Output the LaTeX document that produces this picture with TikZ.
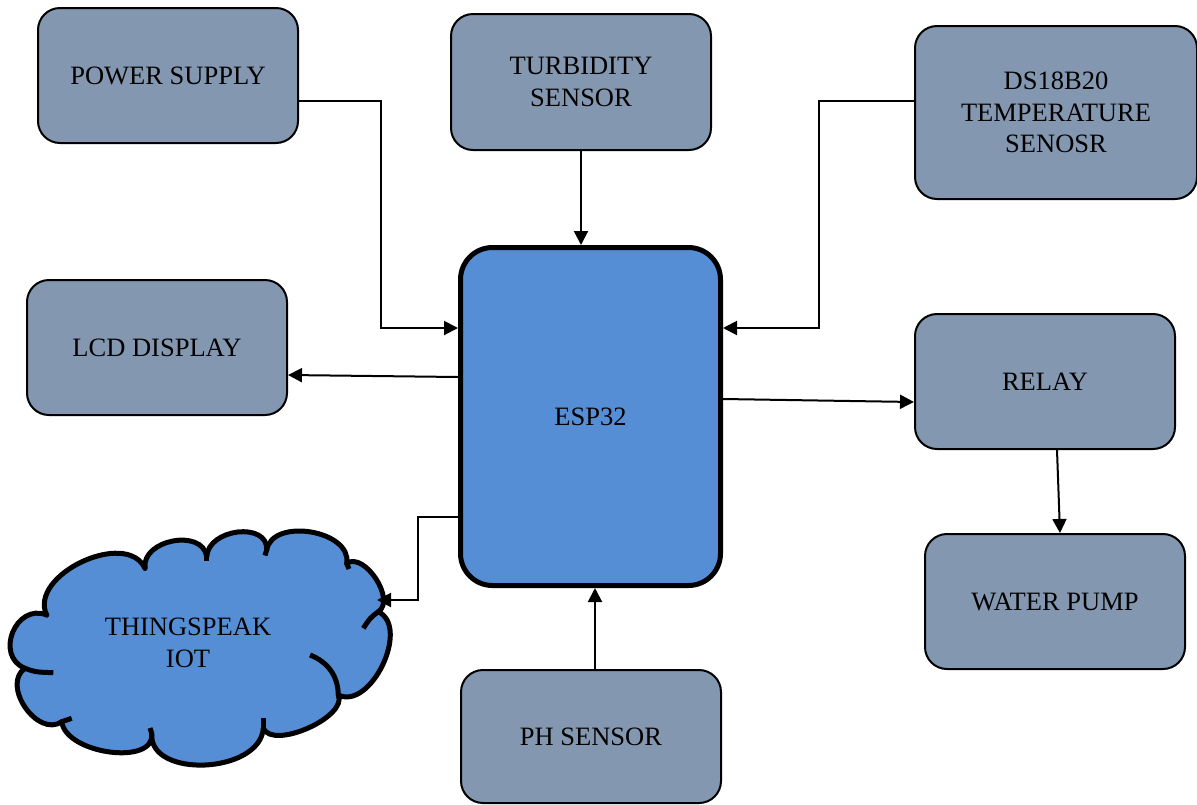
\documentclass[tikz,border=0pt]{standalone}
\usepackage{fontspec}
\setmainfont{Liberation Serif}
\usetikzlibrary{arrows.meta,calc}
\definecolor{boxgrey}{RGB}{132,151,176}
\definecolor{espblue}{RGB}{85,142,213}
\begin{document}
\begin{tikzpicture}[x=1pt,y=-1pt,
  box/.style={draw=black, line width=2pt, fill=boxgrey, rounded corners=22pt, align=center,
    font=\fontsize{26.5}{31.5}\selectfont, minimum width=260pt, minimum height=135pt, inner sep=0pt},
  mcu/.style={draw=black, line width=5pt, fill=espblue, rounded corners=32pt, align=center,
    font=\fontsize{26.5}{31.5}\selectfont, minimum width=260pt, minimum height=338pt, inner sep=0pt},
  conn/.style={draw=black, line width=2pt, -{Triangle[length=14pt,width=14pt]}},
  cloudline/.style={draw=black, line width=5pt, line cap=round}]
\useasboundingbox (0,0) rectangle (1197,804);
% boxes
\node[box] (ps) at (168,75.5) {POWER SUPPLY};
\node[box, minimum height=136pt] (turb) at (581,82) {TURBIDITY\\SENSOR};
\node[box, minimum width=282pt, minimum height=173pt] (ds) at (1056,112.5) {DS18B20\\TEMPERATURE\\SENOSR};
\node[box] (lcd) at (157,347.5) {LCD DISPLAY};
\node[mcu] (esp) at (590.5,416.5) {ESP32};
\node[box] (relay) at (1045,381.5) {RELAY};
\node[box] (pump) at (1055,601.5) {WATER PUMP};
\node[box, minimum height=133pt] (ph) at (591,736.5) {PH SENSOR};
% cloud
\fill[espblue] (46.7,615) .. controls (15.8,602.5) and (-5.9,655.8) .. (25,668.3)
  .. controls (0.8,684.9) and (37.5,738.3) .. (61.7,721.7)
  .. controls (66.1,754.4) and (156.1,766) .. (151.7,733.3)
  .. controls (148.4,778.9) and (260,773.9) .. (263.3,728.3)
  .. controls (273,750.2) and (348,716.9) .. (338.3,695)
  .. controls (370.7,710.6) and (410.7,627.3) .. (378.3,611.7)
  .. controls (396.2,600) and (364.6,551.6) .. (346.7,563.3)
  .. controls (352.2,530.4) and (272.2,517.1) .. (266.7,550)
  .. controls (268.4,521.5) and (208.4,528.2) .. (206.7,556.7)
  .. controls (202.9,528) and (141.2,539.6) .. (145,568.3)
  .. controls (126.1,528.6) and (27.8,575.3) .. (46.7,615) -- cycle;
\draw[cloudline] (46.7,615) .. controls (15.8,602.5) and (-5.9,655.8) .. (25,668.3);
\draw[cloudline] (25,668.3) .. controls (0.8,684.9) and (37.5,738.3) .. (61.7,721.7);
\draw[cloudline] (61.7,721.7) .. controls (66.1,754.4) and (156.1,766) .. (151.7,733.3);
\draw[cloudline] (151.7,733.3) .. controls (148.4,778.9) and (260,773.9) .. (263.3,728.3);
\draw[cloudline] (263.3,728.3) .. controls (273,750.2) and (348,716.9) .. (338.3,695);
\draw[cloudline] (338.3,695) .. controls (370.7,710.6) and (410.7,627.3) .. (378.3,611.7);
\draw[cloudline] (378.3,611.7) .. controls (396.2,600) and (364.6,551.6) .. (346.7,563.3);
\draw[cloudline] (346.7,563.3) .. controls (352.2,530.4) and (272.2,517.1) .. (266.7,550);
\draw[cloudline] (266.7,550) .. controls (268.4,521.5) and (208.4,528.2) .. (206.7,556.7);
\draw[cloudline] (206.7,556.7) .. controls (202.9,528) and (141.2,539.6) .. (145,568.3);
\draw[cloudline] (145,568.3) .. controls (126.1,528.6) and (27.8,575.3) .. (46.7,615);
% interior arcs of the cloud
\draw[line width=5pt] (25,668.3) .. controls (35,672) .. (53.3,672.7);
\draw[line width=5pt] (61.7,721.7) -- (71.7,718.3);
\draw[line width=5pt] (151.7,733.3) -- (150,728);
\draw[line width=5pt] (263.3,728.3) -- (263.3,718.3);
\draw[line width=5pt] (310,655) .. controls (328,662) and (338,676) .. (338.3,695);
\draw[line width=5pt] (378.3,611.7) .. controls (370,618) .. (363.3,628.3);
\draw[line width=5pt] (346.7,563.3) -- (349,569);
\draw[line width=5pt] (266.7,550) -- (265,555.5);
\draw[line width=5pt] (206.7,556.7) -- (206.7,561);
\node[align=center, font=\fontsize{26.5}{31.5}\selectfont] (cloudtxt) at (188,643) {THINGSPEAK\\IOT};
\coordinate (cloudin) at (377,600);
% connectors
\draw[conn] ([yshift=-25.5pt]ps.east) -- ++(82,0) |- ([yshift=88.5pt]esp.west);
\draw[conn] (turb.south) -- (turb.south |- esp.north);
\draw[conn] ([yshift=11.5pt]ds.west) -- ++(-95,0) |- ([yshift=88.5pt]esp.east);
\draw[conn] ([yshift=39.5pt]esp.west) -- ([yshift=-27.5pt]lcd.east);
\draw[conn] ([yshift=17.5pt]esp.east) -- ([yshift=-20.5pt]relay.west);
\draw[conn] ([xshift=12pt]relay.south) -- ([xshift=5pt]pump.north);
\draw[conn] ([yshift=-100.5pt]esp.west) -- ++(-40,0) |- (cloudin);
\draw[conn] ([xshift=4pt]ph.north) -- ([xshift=4pt]ph.north |- esp.south);
\end{tikzpicture}
\end{document}
